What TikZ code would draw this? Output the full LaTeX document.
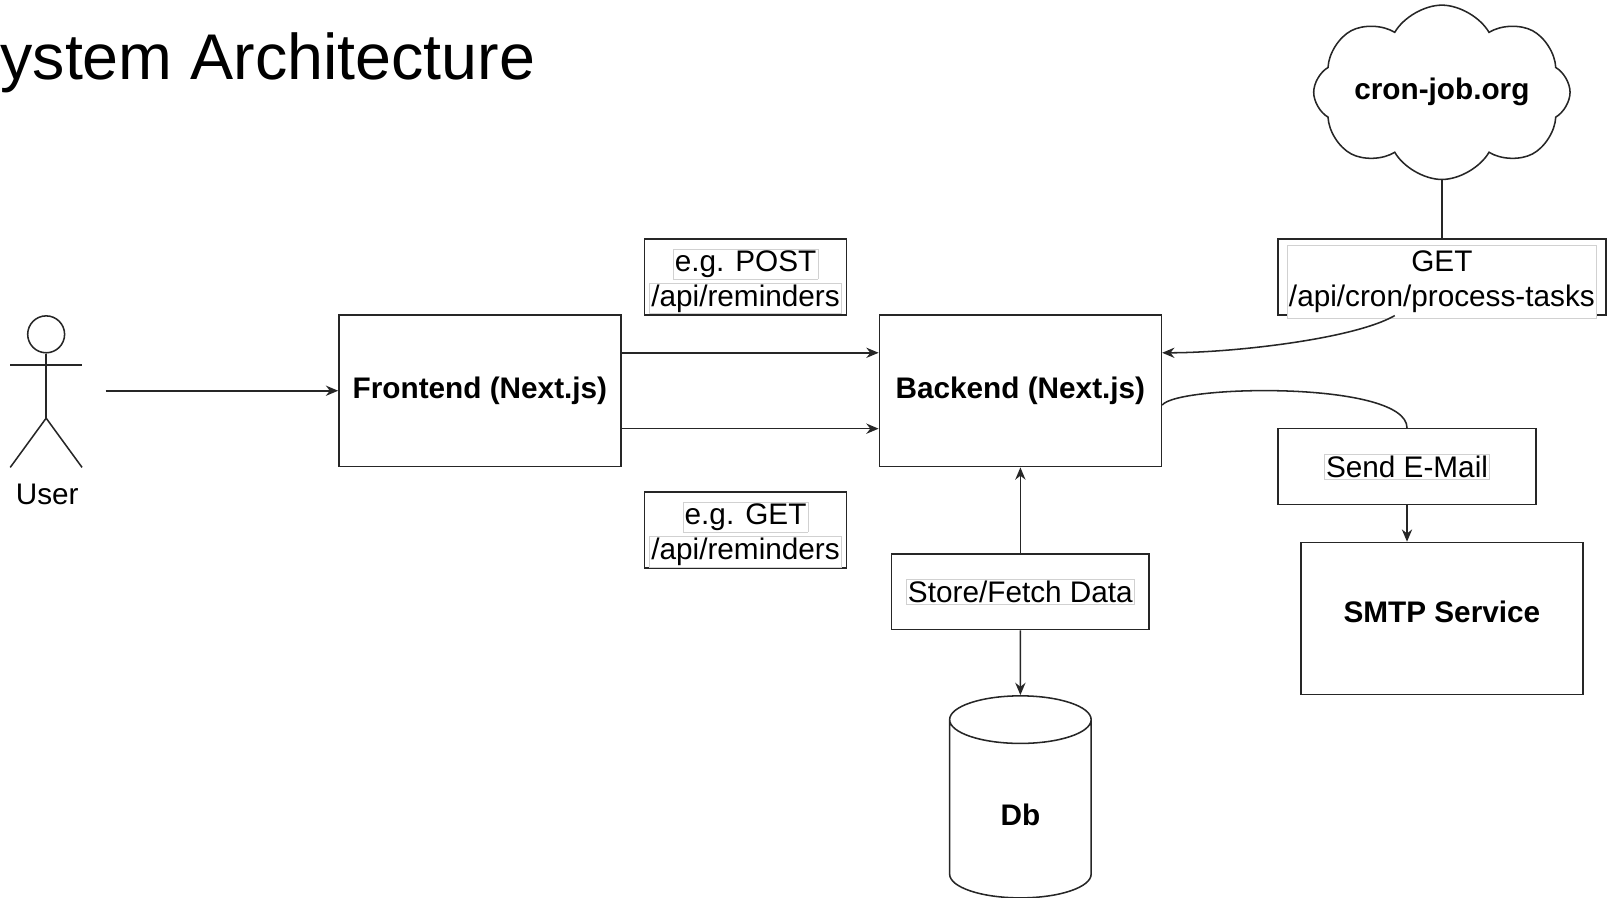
\documentclass[tikz,border=0pt]{standalone}
\usepackage{fontspec}
\setmainfont{Liberation Sans}
\usetikzlibrary{shapes,shapes.geometric,shapes.symbols,arrows.meta,calc}
\newcommand{\txtbox}[1]{{\setlength{\fboxsep}{0.6pt}\setlength{\fboxrule}{0.3pt}\fcolorbox{black!18}{white}{#1}}}
\tikzset{
  flow/.style = {draw=black!85, line width=0.75pt},
  arr/.style = {flow, -{Stealth[length=6pt,width=5pt]}},
  treenode/.style = {align=center, inner sep=0pt, text centered, font=\fontsize{14.5}{17}\selectfont},
  box_b/.style = {treenode, rectangle, draw=black!85, line width=0.75pt, font=\fontsize{14.5}{17}\selectfont\bfseries, minimum width=137.5pt, minimum height=74pt},
  box_l/.style = {treenode, rectangle, draw=black!85, line width=0.75pt, minimum height=37pt},
  box_l2/.style = {box_l, text height=12pt, text depth=17.6pt},
  title_t/.style = {inner sep=0pt, font=\fontsize{31.5}{38}\selectfont}
}
\begin{document}
\begin{tikzpicture}[x=0.5pt, y=-0.5pt]
	\useasboundingbox (0,0) rectangle (1568,875);
	\node [title_t, anchor=base west] (title) at (0,78) {ystem Architecture};
	% user
	\node [circle, flow, minimum size=18pt, inner sep=0pt] (user_head) at (45,326) {};
	\draw [flow] (user_head.south) -- ++(0,63) coordinate (user_hip);
	\draw [flow] (10,356) -- (80,356);
	\draw [flow] (user_hip) -- ++(-35,48);
	\draw [flow] (user_hip) -- ++(35,48);
	\node [treenode] (user_lbl) at (46,482) {User};
	\coordinate (user_out) at (103,381);
	% main boxes
	\node [box_b] (frontend) at (468,381) {Frontend (Next.js)};
	\node [box_b] (backend) at (995,381) {Backend (Next.js)};
	\node [box_b] (smtp) at (1406,603) {\raisebox{-2.2pt}[0pt][0pt]{SMTP Service}};
	\node [treenode, cylinder, shape border rotate=90, aspect=1.2, draw=black!85, line width=0.75pt, minimum width=69pt, minimum height=98.5pt, font=\fontsize{14.5}{17}\selectfont\bfseries] (db) at (995,789) {\raisebox{-8pt}[0pt][0pt]{Db}};
	\node [treenode, cloud, cloud puffs=8, cloud puff arc=120, aspect=1.47, draw=black!85, line width=0.75pt, minimum width=125pt, minimum height=85pt, font=\fontsize{14.5}{17}\selectfont\bfseries] (cron) at (1406,90) {\makebox[0pt]{cron-job.org}};
	% labels
	\node [box_l2, minimum width=98.5pt] (post_lbl) at (727,270) {\begin{tabular}[t]{@{}c@{}}\txtbox{e.g. POST}\\\txtbox{/api/reminders}\end{tabular}};
	\node [box_l2, minimum width=98.5pt] (get_lbl) at (727,517) {\begin{tabular}[t]{@{}c@{}}\txtbox{e.g. GET}\\\txtbox{/api/reminders}\end{tabular}};
	\node [box_l2, minimum width=160pt] (cron_api) at (1406,270) {\txtbox{\begin{tabular}[t]{@{}c@{}}GET\\/api/cron/process-tasks\end{tabular}}};
	\node [box_l, minimum width=126pt] (send) at (1372,455) {\txtbox{Send E-Mail}};
	\node [box_l, minimum width=125.5pt] (store) at (995,577) {\txtbox{Store/Fetch Data}};
	% connectors
	\draw [arr] (user_out) -- (frontend.west);
	\draw [arr] ($(frontend.east)+(0,-37)$) -- ($(backend.west)+(0,-37)$);
	\draw [arr] ($(frontend.east)+(0,37)$) -- ($(backend.west)+(0,37)$);
	\draw [flow] (cron.south) -- (cron_api.north);
	\draw [arr] ($(cron_api.south)+(-46,0)$) .. controls ($(cron_api.south)+(-86,23)$) and ($(backend.east)+(68,-37)$) .. ($(backend.east)+(0,-37)$);
	\draw [flow] ($(backend.east)+(0,14)$) .. controls ($(backend.east)+(15,-6)$) and ($(send.north)+(0,-46)$) .. (send.north);
	\draw [arr] (send.south) -- (send.south |- smtp.north);
	\draw [arr] (store.north) -- (backend.south);
	\draw [arr] (store.south) -- (db.north);
\end{tikzpicture}
\end{document}
